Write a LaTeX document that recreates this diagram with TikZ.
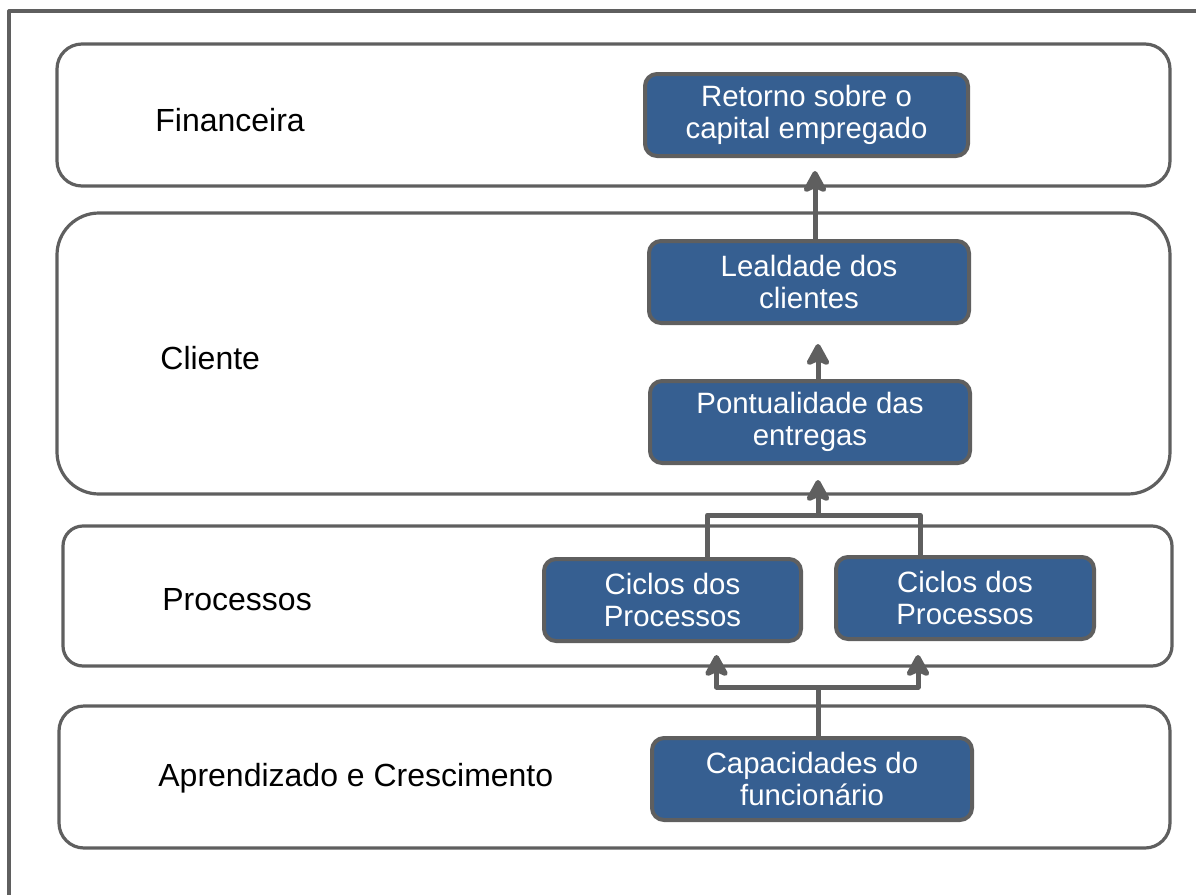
\documentclass[tikz,border=0pt]{standalone}
\usepackage{fontspec}
\setmainfont{Liberation Sans}
\usetikzlibrary{arrows.meta,calc}
\definecolor{linegray}{HTML}{5F5F5F}
\definecolor{boxblue}{HTML}{365F91}
\begin{document}
\begin{tikzpicture}[x=0.5pt, y=-0.5pt, line join=round,
	band/.style={draw=linegray, line width=1.6pt},
	perspective/.style={anchor=west, inner sep=0pt, font=\fontsize{16}{19}\selectfont},
	goal/.style={draw=linegray, line width=2pt, fill=boxblue, text=white, rounded corners=6pt, align=center, minimum width=160pt, minimum height=41pt, inner sep=0pt, font=\fontsize{14.7}{16.3}\selectfont},
	link/.style={draw=linegray, line width=2.5pt},
	flow/.style={link, -{Stealth[length=13pt, width=14pt, inset=3pt, round]}}]
	
	\useasboundingbox (0,0) rectangle (1196,895);
	\draw[linegray, line width=1.6pt] (9,895) |- (1196,11);
	
	% Financeira
	\draw[band, rounded corners=12.5pt] (57,44) rectangle (1170,186);
	\node[perspective] (fin) at (155,120) {Financeira};
	\node[goal, minimum width=161.5pt] (ret) at (806.5,115) {Retorno sobre o\\capital empregado};
	
	% Cliente
	\draw[band, rounded corners=21pt] (57,213) rectangle (1170,494);
	\node[perspective] (cli) at (160,358) {Cliente};
	\node[goal] (leal) at (809,282) {Lealdade dos\\clientes};
	\node[goal] (pont) at (810,422) {Pontualidade das\\entregas};
	
	% Processos
	\draw[band, rounded corners=10pt] (63,526) rectangle (1172,666);
	\node[perspective] (proc) at (162,600) {Processos};
	\node[goal, minimum width=128.5pt] (cic1) at (672.5,600) {Ciclos dos\\Processos};
	\node[goal, minimum width=129pt] (cic2) at (965,598) {Ciclos dos\\Processos};
	
	% Aprendizado e Crescimento
	\draw[band, rounded corners=12.5pt] (59,706) rectangle (1170,848);
	\node[perspective] (apr) at (158,778) {Aprendizado e Crescimento};
	\node[goal] (cap) at (812,779) {Capacidades do\\funcionário};
	
	% ligações
	\coordinate (lealtop) at ($(leal.north)+(6,0)$);
	\coordinate (ponttop) at ($(pont.north)+(8,0)$);
	\coordinate (jtop) at (818,515);
	\coordinate (jbot) at (818,687);
	\draw[flow, shorten >=6.5pt] (lealtop) -- (lealtop |- ret.south);
	\draw[flow, shorten >=9.5pt] (ponttop) -- (ponttop |- leal.south);
	\draw[link] ($(cic1.north)+(35,0)$) |- (jtop) -| ($(cic2.north)+(-45,0)$);
	\draw[flow, shorten >=7.5pt] (jtop) -- (jtop |- pont.south);
	\draw[link] (cap.north -| jbot) -- (jbot);
	\draw[flow, shorten >=6pt] (jbot) -| ($(cic1.south)+(44,0)$);
	\draw[flow, shorten >=7pt] (jbot) -| ($(cic2.south)+(-47,0)$);
\end{tikzpicture}
\end{document}
